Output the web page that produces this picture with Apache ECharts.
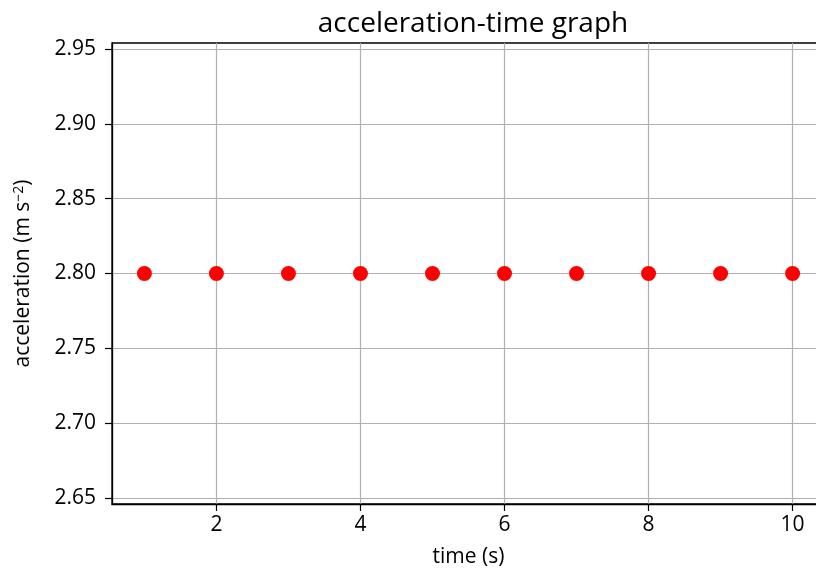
<!DOCTYPE html>
<html>
<head>
<meta charset="utf-8">
<script src="https://cdn.jsdelivr.net/npm/echarts@6/dist/echarts.min.js"></script>
<style>
  html, body { margin: 0; padding: 0; background: #fff; }
  #chart { width: 816px; height: 573px; }
</style>
</head>
<body>
<div id="chart"></div>
<script>
// data
const times = [1, 2, 3, 4, 5, 6, 7, 8, 9, 10];
const accel = [2.8, 2.8, 2.8, 2.8, 2.8, 2.8, 2.8, 2.8, 2.8, 2.8];
const xTicks = [2, 4, 6, 8, 10];
const yTicks = [2.65, 2.70, 2.75, 2.80, 2.85, 2.90, 2.95];

const FONT = 'Open Sans';
const chart = echarts.init(document.getElementById('chart'));

const option = {
  animation: false,
  backgroundColor: '#fff',
  title: {
    text: 'acceleration-time graph',
    left: 468,
    textAlign: 'center',
    top: 5,
    textStyle: { fontFamily: FONT, fontSize: 28, fontWeight: 'normal', color: '#000' }
  },
  // the plot runs past the right edge of the picture
  grid: {
    left: 112, top: 43, width: 713, bottom: 69,
    outerBoundsMode: 'none',
    show: true, borderColor: '#000', borderWidth: 1.3
  },
  xAxis: {
    type: 'value',
    min: 0.55, max: 10.45,
    name: 'time (s)',
    nameLocation: 'middle',
    nameGap: 43,
    nameTextStyle: { fontFamily: FONT, fontSize: 21, color: '#000' },
    axisLine: { show: true, lineStyle: { color: '#000', width: 1.3 } },
    axisTick: { show: true, inside: false, length: 7, customValues: xTicks, lineStyle: { color: '#000', width: 1.2 } },
    axisLabel: { customValues: xTicks, margin: 11, fontFamily: FONT, fontSize: 21, color: '#000' },
    splitLine: { show: true, lineStyle: { color: '#b0b0b0', width: 1.2 } }
  },
  yAxis: {
    type: 'value',
    min: 2.646, max: 2.954,
    name: 'acceleration (m s{sup|−2})',
    nameLocation: 'middle',
    nameGap: 78,
    nameRotate: 90,
    nameTextStyle: {
      fontFamily: FONT, fontSize: 21, color: '#000',
      rich: { sup: { fontFamily: FONT, fontSize: 14, color: '#000', verticalAlign: 'top', padding: [0, 0, 8, 0] } }
    },
    axisLine: { show: true, lineStyle: { color: '#000', width: 1.3 } },
    axisTick: { show: true, inside: false, length: 7, customValues: yTicks, lineStyle: { color: '#000', width: 1.2 } },
    axisLabel: {
      customValues: yTicks, margin: 16, fontFamily: FONT, fontSize: 21, color: '#000',
      formatter: v => v.toFixed(2)
    },
    splitLine: { show: true, lineStyle: { color: '#b0b0b0', width: 1.2 } }
  },
  series: [{
    type: 'scatter',
    data: times.map((t, i) => [t, accel[i]]),
    symbol: 'circle',
    symbolSize: 15,
    itemStyle: { color: '#ff0000', opacity: 1 }
  }]
};
chart.setOption(option);
</script>
</body>
</html>
